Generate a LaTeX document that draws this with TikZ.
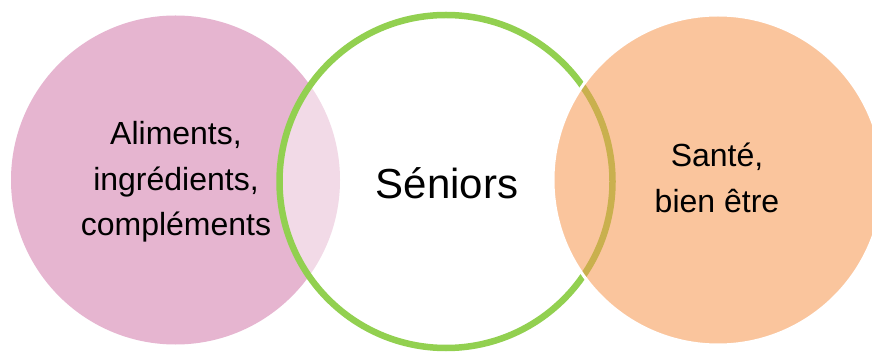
\documentclass[tikz,border=0pt]{standalone}
\usepackage{fontspec}
\setmainfont{Liberation Sans}
\definecolor{pinkfill}{RGB}{230,181,208}
\definecolor{ringgreen}{RGB}{146,208,80}
\definecolor{orangefill}{RGB}{247,150,78}
\tikzset{
  sidetext/.style={align=center, font=\fontsize{32}{45.5}\selectfont, text=black, inner sep=0pt},
  maintext/.style={font=\fontsize{42}{48}\selectfont, text=black, inner sep=0pt},
}
\begin{document}
\begin{tikzpicture}[x=1pt,y=-1pt]
\useasboundingbox[fill=white] (0,0) rectangle (872,352);
% left pink circle
\fill[pinkfill] (175.5,180) circle[radius=164.5];
% central ring
\filldraw[fill=white, fill opacity=0.5, draw=ringgreen, line width=6.5pt] (446,181.5) circle[radius=166.5];
% right orange circle
\fill[orangefill, fill opacity=0.55] (718,180) circle[radius=165];
\draw[white, line width=3pt] (718,180) circle[radius=165];
% texts
\node[sidetext] (left) at (176,182) {Aliments,\\ingrédients,\\compléments};
\node[maintext] (mid) at (447,183.5) {Séniors};
\node[sidetext] (right) at (717,178) {Santé,\\bien être};
\end{tikzpicture}
\end{document}
